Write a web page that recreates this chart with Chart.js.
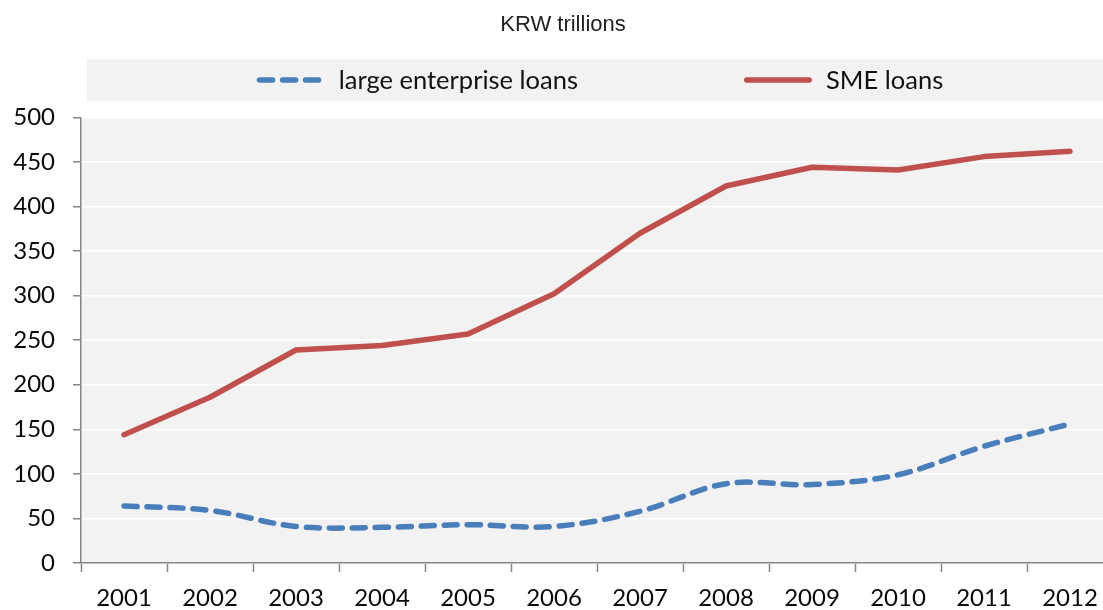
<!DOCTYPE html>
<html>
<head>
<meta charset="utf-8">
<script src="https://cdn.jsdelivr.net/npm/chart.js@4.4.0/dist/chart.umd.min.js"></script>
<style>
  html, body { margin: 0; padding: 0; background: #fff; overflow: hidden; }
  #wrap { width: 1103px; height: 610px; overflow: hidden; }
</style>
</head>
<body>
<div id="wrap"><canvas id="chart" width="1115" height="610"></canvas></div>
<script>
const years = ['2001', '2002', '2003', '2004', '2005', '2006', '2007', '2008', '2009', '2010', '2011', '2012'];
const largeLoans = [64, 59, 41, 40, 43, 41, 58, 89, 88, 99, 131, 156];
const smeLoans = [144, 186, 239, 244, 257, 302, 370, 423, 444, 441, 456, 462];
const yTicks = [0, 50, 100, 150, 200, 250, 300, 350, 400, 450, 500];

const tickFont = { family: 'Lato', size: 24, lineHeight: 1 };
const axisGray = '#868686';

// gray plot area
const plotBg = {
    id: 'plotBg',
    beforeDraw(chart) {
        const a = chart.chartArea;
        const ctx = chart.ctx;
        ctx.save();
        ctx.fillStyle = '#f2f2f2';
        ctx.fillRect(a.left, a.top, a.right - a.left, a.bottom - a.top);
        ctx.restore();
    }
};

// legend strip like the Excel one
const stripLegend = {
    id: 'stripLegend',
    afterDraw(chart) {
        const ctx = chart.ctx;
        const a = chart.chartArea;
        const top = 59.5, bottom = 101.5, mid = 80;
        ctx.save();
        ctx.fillStyle = '#f2f2f2';
        ctx.fillRect(a.left + 6, top, chart.width - a.left - 6, bottom - top);

        ctx.font = '25.5px Lato';
        ctx.textBaseline = 'middle';
        const markLen = 68, gap = 14, itemGap = 166;
        const sets = chart.data.datasets;
        let total = 0;
        sets.forEach((ds, i) => {
            total += markLen + gap + ctx.measureText(ds.label).width;
            if (i > 0) total += itemGap;
        });
        let x = (a.left + 6 + a.right) / 2 - total / 2;
        sets.forEach(ds => {
            ctx.strokeStyle = ds.borderColor;
            ctx.lineWidth = ds.borderWidth;
            ctx.lineCap = ds.borderCapStyle || 'butt';
            ctx.setLineDash(ds.borderDash || []);
            ctx.beginPath();
            const inset = ctx.lineCap === 'round' ? ds.borderWidth / 2 : 0;
            ctx.moveTo(x + inset, mid);
            ctx.lineTo(x + markLen - inset, mid);
            ctx.stroke();
            ctx.setLineDash([]);
            x += markLen + gap;
            ctx.fillStyle = '#111';
            ctx.fillText(ds.label, x, mid + 1);
            x += ctx.measureText(ds.label).width + itemGap;
        });
        ctx.restore();
    }
};

const chart = new Chart(document.getElementById('chart'), {
    type: 'line',
    data: {
        labels: years,
        datasets: [{
            label: 'large enterprise loans',
            data: largeLoans,
            borderColor: '#4a7ebb',
            borderWidth: 5.5,
            borderDash: [13, 10],
            borderCapStyle: 'round',
            tension: 0.35,
            pointRadius: 0
        }, {
            label: 'SME loans',
            data: smeLoans,
            borderColor: '#c0504d',
            borderWidth: 5.5,
            borderCapStyle: 'round',
            borderJoinStyle: 'round',
            tension: 0,
            pointRadius: 0
        }]
    },
    options: {
        responsive: false,
        animation: false,
        layout: { padding: { left: 13, right: 2, top: 0, bottom: 0 } },
        plugins: {
            legend: { display: false },
            tooltip: { enabled: false },
            title: {
                display: true,
                text: 'KRW trillions',
                color: '#222',
                font: { family: 'Liberation Sans', size: 22, weight: 'normal', lineHeight: 1.2 },
                padding: { top: 12, bottom: 79 }
            }
        },
        scales: {
            x: {
                offset: true,
                afterFit(scale) { scale.height = 47; },
                grid: {
                    offset: true,
                    drawOnChartArea: false,
                    drawTicks: true,
                    tickLength: 9,
                    tickColor: axisGray,
                    tickWidth: 1.5
                },
                border: { color: axisGray, width: 1.5 },
                ticks: { color: '#0a0a0a', font: tickFont, padding: 14, maxRotation: 0, autoSkip: false }
            },
            y: {
                min: 0,
                max: 500,
                afterFit(scale) { scale.width = 68; },
                afterBuildTicks(scale) {
                    scale.ticks = yTicks.map(v => ({ value: v }));
                },
                grid: {
                    color: '#ffffff',
                    lineWidth: 1.5,
                    drawTicks: true,
                    tickLength: 8,
                    tickColor: axisGray,
                    tickWidth: 1.5
                },
                border: { color: axisGray, width: 1.5 },
                ticks: { color: '#0a0a0a', font: tickFont, padding: 18 }
            }
        }
    },
    plugins: [plotBg, stripLegend]
});
</script>
</body>
</html>
